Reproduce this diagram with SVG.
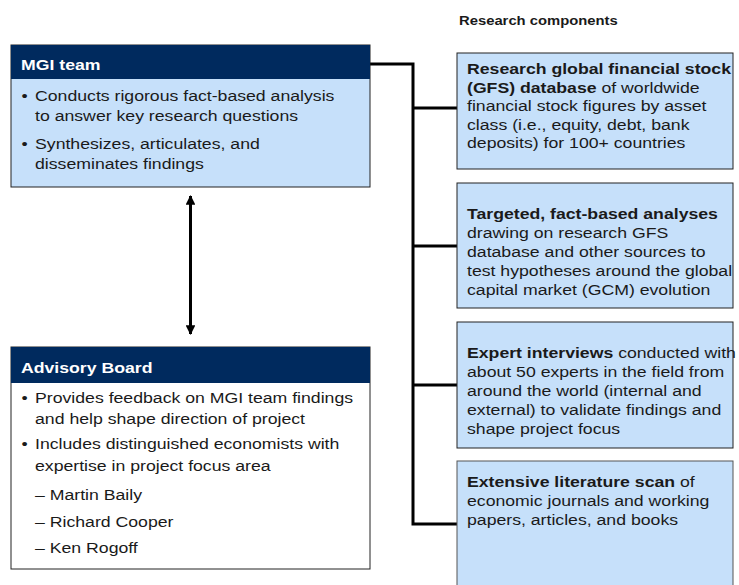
<svg xmlns="http://www.w3.org/2000/svg" width="739" height="585" viewBox="0 0 739 585">
<style>
text{font-family:"Liberation Sans",Arial,sans-serif;font-size:15.5px;fill:#1a1a1a}
.hd{font-weight:bold;fill:#ffffff}
.b{font-weight:bold}
.box{fill:#c6e0fa;stroke:#222;stroke-width:1}
.wbox{fill:#ffffff;stroke:#222;stroke-width:1}
.navy{fill:#002a5e}
.conn{fill:none;stroke:#000;stroke-width:3}
</style>
<defs>
<marker id="ah" viewBox="0 0 10 10" refX="9" refY="5" markerWidth="3.2" markerHeight="3.2" orient="auto-start-reverse" markerUnits="strokeWidth">
<path d="M0,0 L10,5 L0,10 z" fill="#000"/>
</marker>
</defs>
<rect width="739" height="585" fill="#ffffff"/>

<g id="title">
<g transform="translate(459 0) scale(1.14 1)"><text x="0" y="25" class="b" style="font-size:13px">Research components</text></g>
</g>

<g id="connectors">
<path class="conn" d="M370,64 H413 V524 H457"/>
<path class="conn" d="M413,108 H457"/>
<path class="conn" d="M413,246 H457"/>
<path class="conn" d="M413,385 H457"/>
<line x1="190.5" y1="196" x2="190.5" y2="334" stroke="#000" stroke-width="3" marker-start="url(#ah)" marker-end="url(#ah)"/>
</g>

<g id="mgi-team">
<rect class="box" x="11" y="45" width="359" height="142"/>
<rect class="navy" x="11" y="45" width="359" height="34"/>
<g transform="translate(21 0) scale(1.14 1)">
<text x="0" y="70" class="hd">MGI team</text>
<text x="0.5" y="101">•</text>
<text x="12.3" y="101">Conducts rigorous fact-based analysis</text>
<text x="12.3" y="121">to answer key research questions</text>
<text x="0.5" y="149">•</text>
<text x="12.3" y="149">Synthesizes, articulates, and</text>
<text x="12.3" y="169">disseminates findings</text>
</g>
</g>

<g id="advisory-board">
<rect class="wbox" x="11" y="347" width="359" height="222"/>
<rect class="navy" x="11" y="347" width="359" height="36"/>
<g transform="translate(21 0) scale(1.14 1)">
<text x="0" y="373" class="hd">Advisory Board</text>
<text x="0.5" y="403">•</text>
<text x="12.3" y="403">Provides feedback on MGI team findings</text>
<text x="12.3" y="424">and help shape direction of project</text>
<text x="0.5" y="449">•</text>
<text x="12.3" y="449">Includes distinguished economists with</text>
<text x="12.3" y="471">expertise in project focus area</text>
<text x="12.3" y="500">– Martin Baily</text>
<text x="12.3" y="527">– Richard Cooper</text>
<text x="12.3" y="553">– Ken Rogoff</text>
</g>
</g>

<g id="gfs-database">
<rect class="box" x="457" y="53" width="276" height="116"/>
<g transform="translate(467 0) scale(1.14 1)">
<text x="0" y="74" class="b">Research global financial stock</text>
<text x="0" y="93"><tspan class="b">(GFS) database</tspan> of worldwide</text>
<text x="0" y="111.5">financial stock figures by asset</text>
<text x="0" y="130">class (i.e., equity, debt, bank</text>
<text x="0" y="148.5">deposits) for 100+ countries</text>
</g>
</g>

<g id="targeted-analyses">
<rect class="box" x="457" y="183" width="276" height="125"/>
<g transform="translate(467 0) scale(1.14 1)">
<text x="0" y="219" class="b">Targeted, fact-based analyses</text>
<text x="0" y="238">drawing on research GFS</text>
<text x="0" y="257">database and other sources to</text>
<text x="0" y="276">test hypotheses around the global</text>
<text x="0" y="295">capital market (GCM) evolution</text>
</g>
</g>

<g id="expert-interviews">
<rect class="box" x="457" y="322" width="276" height="126"/>
<g transform="translate(467 0) scale(1.14 1)">
<text x="0" y="358"><tspan class="b">Expert interviews</tspan> conducted with</text>
<text x="0" y="377">about 50 experts in the field from</text>
<text x="0" y="396">around the world (internal and</text>
<text x="0" y="415">external) to validate findings and</text>
<text x="0" y="434">shape project focus</text>
</g>
</g>

<g id="literature-scan">
<rect class="box" x="457" y="461" width="276" height="140" style="stroke:#555"/>
<g transform="translate(467 0) scale(1.14 1)">
<text x="0" y="487"><tspan class="b">Extensive literature scan</tspan> of</text>
<text x="0" y="506">economic journals and working</text>
<text x="0" y="525">papers, articles, and books</text>
</g>
</g>
</svg>
